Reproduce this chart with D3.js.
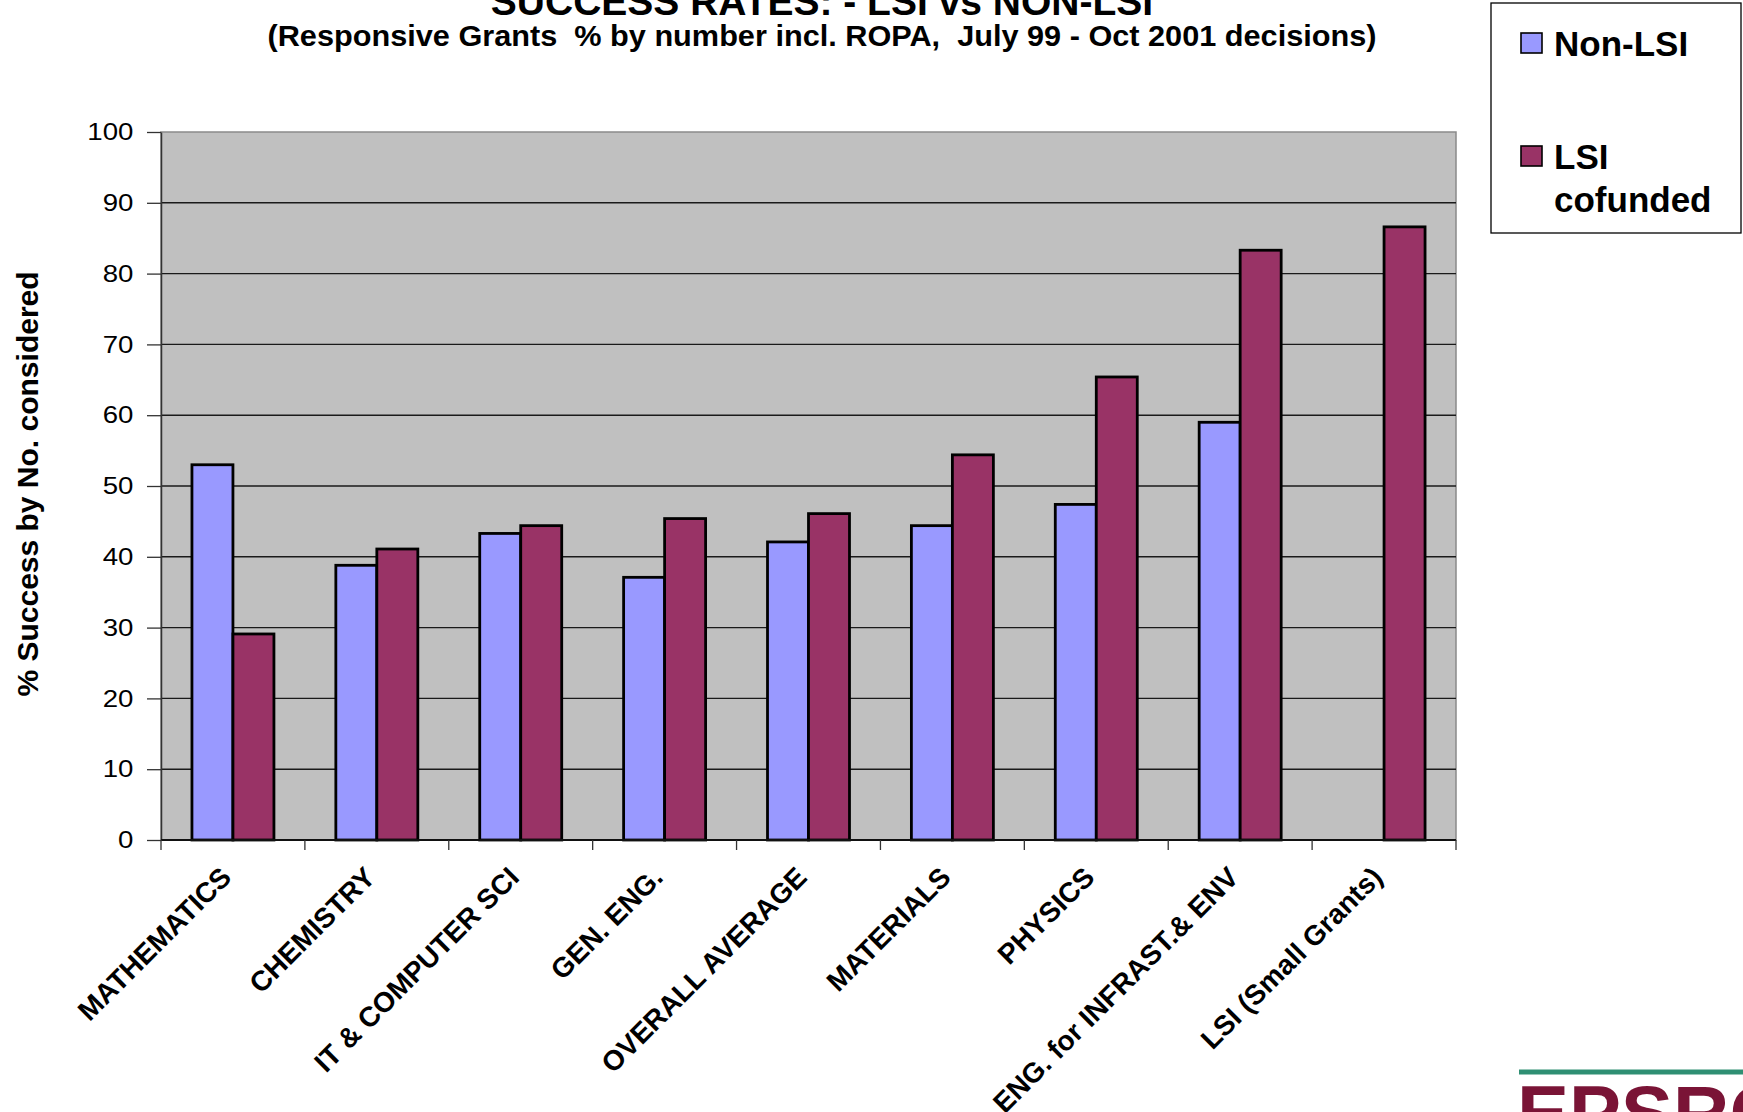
<!DOCTYPE html>
<html>
<head>
<meta charset="utf-8">
<script src="https://cdn.jsdelivr.net/npm/d3@7"></script>
<style>
  body { margin: 0; background: #fff; }
  svg { display: block; font-family: "Liberation Sans", Arial, sans-serif; }
</style>
</head>
<body>
<div class="chart"></div>
<script>
// data
const categories = ['MATHEMATICS', 'CHEMISTRY', 'IT & COMPUTER SCI', 'GEN. ENG.', 'OVERALL AVERAGE',
                    'MATERIALS', 'PHYSICS', 'ENG. for INFRAST.& ENV', 'LSI (Small Grants)'];
const nonLsi      = [53.0, 38.8, 43.3, 37.1, 42.1, 44.4, 47.4, 59.0, null];
const lsiCofunded = [29.1, 41.1, 44.4, 45.4, 46.1, 54.4, 65.4, 83.3, 86.6];
const seriesNames = ['Non-LSI', 'LSI cofunded'];
const yTicks = [0, 10, 20, 30, 40, 50, 60, 70, 80, 90, 100];

const colors = {'Non-LSI': '#9999FF', 'LSI cofunded': '#993366'};

const width = 1743, height = 1112;
const margin = {top: 132, right: 287, bottom: 272, left: 161};
const plotW = width - margin.left - margin.right;
const plotH = height - margin.top - margin.bottom;

const svg = d3.select('.chart').append('svg')
  .attr('width', width).attr('height', height);

const g = svg.append('g').attr('transform', `translate(${margin.left},${margin.top})`);

const x0 = d3.scaleBand().domain(categories).range([0, plotW]).paddingInner(0).paddingOuter(0);
const x1 = d3.scaleBand().domain(seriesNames).range([0, x0.bandwidth()]).paddingInner(0).paddingOuter(0.755);
const y = d3.scaleLinear().domain([0, 100]).range([plotH, 0]);

// plot area
g.append('rect').attr('width', plotW).attr('height', plotH)
  .attr('fill', '#C0C0C0').attr('stroke', '#8a8a8a').attr('stroke-width', 1.5);

// gridlines
g.append('g').selectAll('line').data(yTicks.filter(d => d > 0 && d < 100)).enter().append('line')
  .attr('x1', 0).attr('x2', plotW).attr('y1', d => y(d)).attr('y2', d => y(d))
  .attr('stroke', '#1a1a1a').attr('stroke-width', 1.4);

// y axis
const yAxis = d3.axisLeft(y).tickValues(yTicks).tickSize(14).tickPadding(10).tickSizeOuter(0);
const yAxisDraw = g.append('g').call(yAxis);
yAxisDraw.select('.domain').attr('stroke', '#333').attr('stroke-width', 1.5);
yAxisDraw.selectAll('.tick line').attr('stroke', '#333').attr('stroke-width', 1.3);
yAxisDraw.selectAll('text').attr('font-size', 24).attr('fill', '#000')
  .attr('font-family', '"Liberation Sans", Arial, sans-serif')
  .attr('transform', 'scale(1.15,1)');

// bars
const rows = categories.map((c, i) => ({cat: c, values: [
  {key: 'Non-LSI', value: nonLsi[i]}, {key: 'LSI cofunded', value: lsiCofunded[i]}]}));

const groups = g.selectAll('.grp').data(rows).enter().append('g').attr('class', 'grp')
  .attr('transform', d => `translate(${x0(d.cat)},0)`);
groups.selectAll('rect').data(d => d.values.filter(v => v.value != null)).enter().append('rect')
  .attr('x', d => x1(d.key)).attr('y', d => y(d.value))
  .attr('width', x1.bandwidth()).attr('height', d => plotH - y(d.value))
  .attr('fill', d => colors[d.key]).attr('stroke', '#000').attr('stroke-width', 2.8);

// x axis
const xTickPos = d3.range(categories.length + 1).map(i => i * x0.step());
const xAxisDraw = g.append('g').attr('transform', `translate(0,${plotH})`);
xAxisDraw.append('line').attr('x1', 0).attr('x2', plotW).attr('stroke', '#111').attr('stroke-width', 2);
xAxisDraw.selectAll('.tk').data(xTickPos).enter().append('line')
  .attr('x1', d => d).attr('x2', d => d).attr('y1', 0).attr('y2', 10)
  .attr('stroke', '#333').attr('stroke-width', 1.3);
xAxisDraw.selectAll('.lbl').data(categories).enter().append('text')
  .attr('transform', d => `translate(${x0(d) + x0.bandwidth() / 2},${39}) rotate(-45)`)
  .attr('text-anchor', 'end').attr('font-size', 28).attr('font-weight', 'bold')
  .text(d => d);

// y title
svg.append('text')
  .attr('transform', `translate(38,484) rotate(-90)`)
  .attr('text-anchor', 'middle').attr('font-size', 30).attr('font-weight', 'bold')
  .text('% Success by No. considered');

// titles (first line is cut by the top edge in the original)
svg.append('text').attr('x', 822).attr('y', 15).attr('text-anchor', 'middle')
  .attr('font-size', 39).attr('font-weight', 'bold')
  .text('SUCCESS RATES: - LSI vs NON-LSI');
svg.append('text').attr('x', 822).attr('y', 46).attr('text-anchor', 'middle')
  .attr('font-size', 29).attr('font-weight', 'bold').style('white-space', 'pre')
  .attr('textLength', 1109).attr('lengthAdjust', 'spacingAndGlyphs')
  .text('(Responsive Grants  % by number incl. ROPA,  July 99 - Oct 2001 decisions)');

// legend
const legend = svg.append('g');
legend.append('rect').attr('x', 1491).attr('y', 3).attr('width', 250).attr('height', 230)
  .attr('fill', '#fff').attr('stroke', '#000').attr('stroke-width', 1.3);
const legendItems = [
  {key: 'Non-LSI', lines: ['Non-LSI'], y: 33},
  {key: 'LSI cofunded', lines: ['LSI', 'cofunded'], y: 146}
];
legendItems.forEach(it => {
  legend.append('rect').attr('x', 1521).attr('y', it.y).attr('width', 21).attr('height', 20)
    .attr('fill', colors[it.key]).attr('stroke', '#000').attr('stroke-width', 1.6);
  it.lines.forEach((ln, j) => {
    legend.append('text').attr('x', 1554).attr('y', it.y + 23 + j * 43)
      .attr('font-size', 35).attr('font-weight', 'bold').text(ln);
  });
});

// logo fragment, bottom right
svg.append('line').attr('x1', 1519).attr('x2', 1743).attr('y1', 1072).attr('y2', 1072)
  .attr('stroke', '#2f8f73').attr('stroke-width', 5);
svg.append('text').attr('x', 1517).attr('y', 1140).attr('font-size', 78).attr('font-weight', 'bold')
  .attr('fill', '#7a1436').text('EPSRC');
</script>
</body>
</html>
